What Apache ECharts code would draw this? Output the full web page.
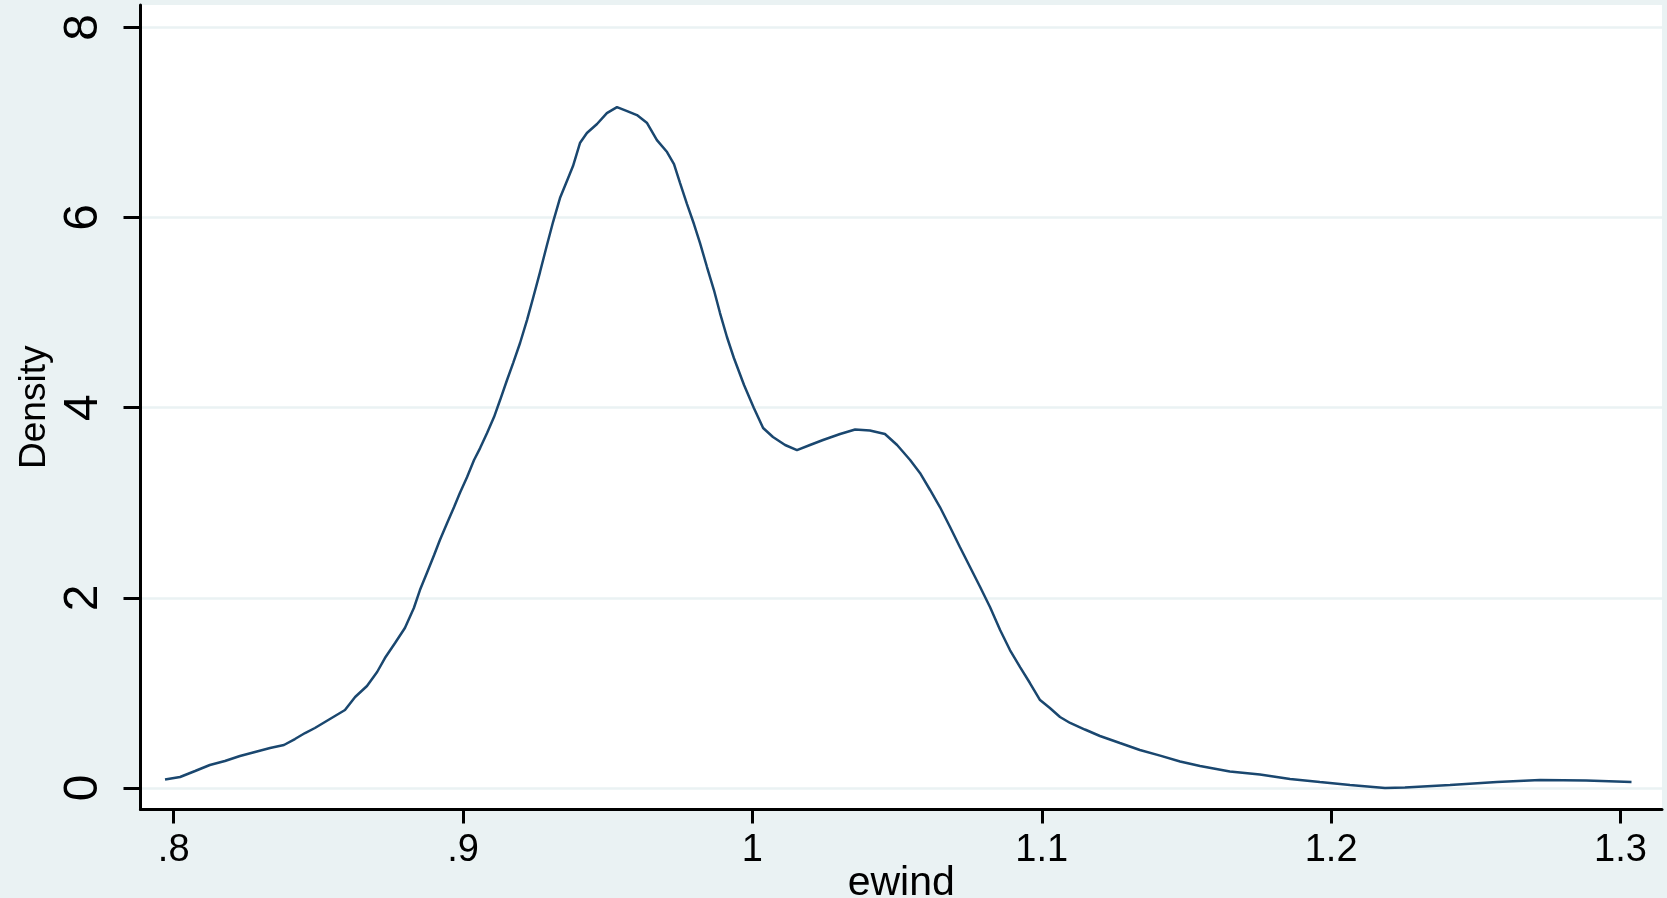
<!DOCTYPE html>
<html>
<head>
<meta charset="utf-8">
<title>ewind density</title>
<script src="https://cdn.jsdelivr.net/npm/echarts@6/dist/echarts.min.js"></script>
<style>
  html, body { margin: 0; padding: 0; background: #eaf2f3; }
  #main { width: 1667px; height: 898px; }
</style>
</head>
<body>
<div id="main"></div>
<script>
// kernel density of ewind
const ewind = [
  0.7970, 0.8022, 0.8074, 0.8125, 0.8177, 0.8229, 0.8281, 0.8333, 0.8381, 0.8419,
  0.8454, 0.8488, 0.8540, 0.8592, 0.8627, 0.8668, 0.8703, 0.8730, 0.8765, 0.8799,
  0.8830, 0.8851, 0.8875, 0.8900, 0.8920, 0.8945, 0.8969, 0.8989, 0.9014, 0.9038,
  0.9059, 0.9083, 0.9107, 0.9128, 0.9152, 0.9173, 0.9197, 0.9221, 0.9242, 0.9266,
  0.9290, 0.9311, 0.9335, 0.9359, 0.9380, 0.9404, 0.9428, 0.9463, 0.9497, 0.9532,
  0.9567, 0.9601, 0.9636, 0.9670, 0.9705, 0.9729, 0.9750, 0.9774, 0.9798, 0.9819,
  0.9843, 0.9867, 0.9888, 0.9912, 0.9936, 0.9971, 1.0005, 1.0037, 1.0071, 1.0113,
  1.0154, 1.0199, 1.0244, 1.0303, 1.0355, 1.0406, 1.0458, 1.0500, 1.0545, 1.0579,
  1.0614, 1.0648, 1.0683, 1.0717, 1.0752, 1.0787, 1.0821, 1.0856, 1.0890, 1.0925,
  1.0959, 1.0994, 1.1028, 1.1063, 1.1098, 1.1149, 1.1201, 1.1270, 1.1339, 1.1409,
  1.1478, 1.1547, 1.1650, 1.1754, 1.1858, 1.1961, 1.2065, 1.2186, 1.2255, 1.2411,
  1.2573, 1.2722, 1.2881, 1.3038
];
const density = [
  0.089, 0.116, 0.179, 0.242, 0.284, 0.337, 0.379, 0.421, 0.452, 0.515,
  0.578, 0.631, 0.726, 0.820, 0.957, 1.073, 1.220, 1.367, 1.525, 1.683,
  1.893, 2.082, 2.261, 2.450, 2.608, 2.787, 2.955, 3.102, 3.270, 3.449,
  3.575, 3.733, 3.901, 4.080, 4.291, 4.469, 4.680, 4.921, 5.153, 5.426,
  5.710, 5.952, 6.204, 6.383, 6.541, 6.783, 6.888, 6.983, 7.098, 7.161,
  7.119, 7.077, 6.993, 6.814, 6.688, 6.562, 6.362, 6.141, 5.931, 5.731,
  5.479, 5.237, 4.995, 4.743, 4.522, 4.238, 3.996, 3.786, 3.691, 3.607,
  3.554, 3.607, 3.660, 3.723, 3.770, 3.759, 3.723, 3.607, 3.449, 3.313,
  3.134, 2.955, 2.745, 2.534, 2.324, 2.114, 1.903, 1.662, 1.451, 1.272,
  1.104, 0.925, 0.841, 0.747, 0.684, 0.615, 0.547, 0.473, 0.400, 0.340,
  0.279, 0.231, 0.174, 0.142, 0.095, 0.063, 0.032, 0.000, 0.005, 0.032,
  0.063, 0.084, 0.079, 0.063
];
const xTicks = [0.8, 0.9, 1.0, 1.1, 1.2, 1.3];
const xTickLabels = ['.8', '.9', '1', '1.1', '1.2', '1.3'];
const yTicks = [0, 2, 4, 6, 8];

const font = '"Liberation Sans", Arial, sans-serif';
const chart = echarts.init(document.getElementById('main'));

const option = {
  animation: false,
  backgroundColor: '#eaf2f3',
  grid: {
    left: 140.5,
    top: 5,
    width: 1521.5,
    height: 804.5,
    containLabel: false,
    outerBoundsMode: 'none',
    show: true,
    backgroundColor: '#ffffff',
    borderWidth: 0
  },
  xAxis: {
    type: 'value',
    min: 0.78853,
    max: 1.31434,
    name: 'ewind',
    nameLocation: 'middle',
    nameGap: 54,
    nameMoveOverlap: false,
    nameTextStyle: { fontFamily: font, fontSize: 41, color: '#000' },
    axisLine: { show: true, onZero: false, lineStyle: { color: '#000', width: 3 } },
    axisTick: { show: true, length: 14, customValues: xTicks, lineStyle: { color: '#000', width: 3 } },
    axisLabel: {
      customValues: xTicks,
      margin: 22,
      fontFamily: font,
      fontSize: 38,
      color: '#000',
      formatter: function (v) {
        const i = xTicks.findIndex(function (t) { return Math.abs(t - v) < 1e-6; });
        return i >= 0 ? xTickLabels[i] : '';
      }
    },
    splitLine: { show: false }
  },
  yAxis: {
    type: 'value',
    min: -0.2261,
    max: 8.2345,
    name: 'Density',
    nameLocation: 'middle',
    nameGap: 87,
    nameMoveOverlap: false,
    nameTextStyle: { fontFamily: font, fontSize: 37, color: '#000' },
    axisLine: { show: true, onZero: false, lineStyle: { color: '#000', width: 3 } },
    axisTick: { show: true, length: 17, customValues: yTicks, lineStyle: { color: '#000', width: 3 } },
    axisLabel: {
      customValues: yTicks,
      rotate: 90,
      margin: 33,
      fontFamily: font,
      fontSize: 48,
      color: '#000'
    },
    splitLine: { show: true, lineStyle: { color: '#eaf2f3', width: 2.5 } }
  },
  series: [
    {
      type: 'line',
      data: ewind.map(function (x, i) { return [x, density[i]]; }),
      showSymbol: false,
      smooth: false,
      lineStyle: { color: '#1a476f', width: 2.5 }
    }
  ]
};

chart.setOption(option);
</script>
</body>
</html>
